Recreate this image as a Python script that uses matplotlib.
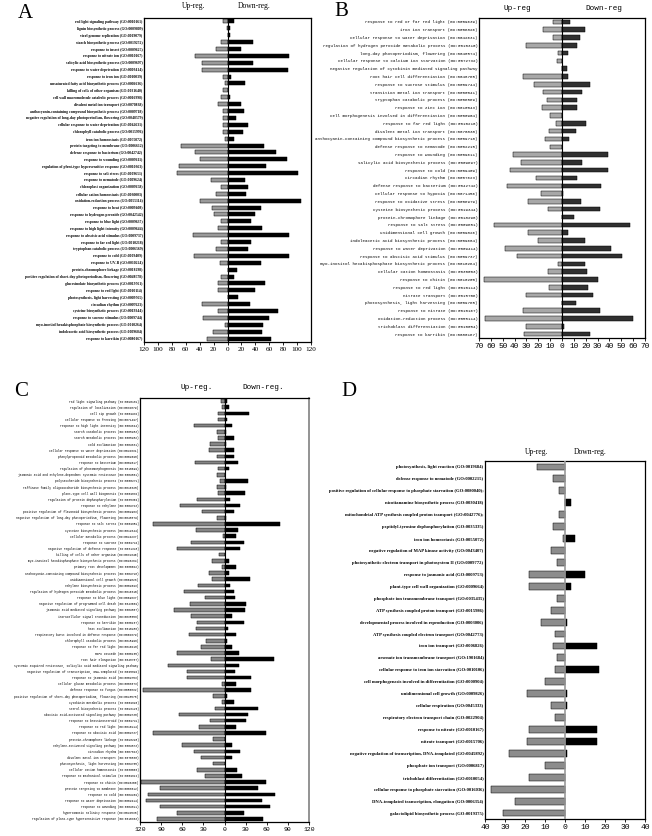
import numpy as np
import matplotlib
matplotlib.use("Agg")
import matplotlib.pyplot as plt

# ---------------- Panel A ----------------
a_labels = [
    "red light signaling pathway (GO:0010161)",
    "lignin biosynthetic process (GO:0009809)",
    "viral genome replication (GO:0019079)",
    "starch biosynthetic process (GO:0019252)",
    "response to insect (GO:0009625)",
    "response to nitrate ion (GO:0010167)",
    "salicylic acid biosynthetic process (GO:0009697)",
    "response to water deprivation (GO:0009414)",
    "response to iron ion (GO:0010039)",
    "unsaturated fatty acid biosynthetic process (GO:0006636)",
    "killing of cells of other organism (GO:0031640)",
    "cell wall macromolecule catabolic process (GO:0016998)",
    "divalent metal ion transport (GO:0070838)",
    "anthocyanin-containing compound biosynthetic process (GO:0009718)",
    "negative regulation of long-day photoperiodism, flowering (GO:0048579)",
    "cellular response to water deprivation (GO:0042631)",
    "chlorophyll catabolic process (GO:0015996)",
    "iron ion homeostasis (GO:0055072)",
    "protein targeting to membrane (GO:0006612)",
    "defense response to bacterium (GO:0042742)",
    "response to wounding (GO:0009611)",
    "regulation of plant-type hypersensitive response (GO:0010363)",
    "response to salt stress (GO:0009651)",
    "response to nematode (GO:0009624)",
    "chloroplast organization (GO:0009658)",
    "cellular cation homeostasis (GO:0030003)",
    "oxidation-reduction process (GO:0055114)",
    "response to heat (GO:0009408)",
    "response to hydrogen peroxide (GO:0042542)",
    "response to blue light (GO:0009637)",
    "response to high light intensity (GO:0009644)",
    "response to abscisic acid stimulus (GO:0009737)",
    "response to far red light (GO:0010218)",
    "tryptophan catabolic process (GO:0006569)",
    "response to cold (GO:0009409)",
    "response to UV-B (GO:0010224)",
    "protein-chromophore linkage (GO:0018298)",
    "positive regulation of short-day photoperiodism, flowering (GO:0048578)",
    "glucosinolate biosynthetic process (GO:0019761)",
    "response to red light (GO:0010114)",
    "photosynthesis, light harvesting (GO:0009765)",
    "circadian rhythm (GO:0007623)",
    "cysteine biosynthetic process (GO:0019344)",
    "response to sucrose stimulus (GO:0009744)",
    "myo-inositol hexakisphosphate biosynthetic process (GO:0010264)",
    "indoleacetic acid biosynthetic process (GO:0009684)",
    "response to karrikin (GO:0080167)",
]
a_up = [6, 1, 0, 9, 16, 47, 37, 37, 7, 4, 7, 10, 13, 6, 7, 7, 6, 4, 67, 47, 39, 70, 72, 24,
        10, 17, 40, 22, 19, 9, 13, 50, 10, 16, 48, 11, 0, 10, 14, 13, 0, 37, 14, 35, 4, 21, 29]
a_down = [10, 3, 3, 36, 19, 88, 36, 87, 5, 25, 0, 3, 20, 23, 12, 30, 22, 9, 52, 70, 86, 55, 101, 25,
          30, 26, 105, 48, 39, 34, 49, 88, 34, 30, 88, 48, 13, 9, 54, 39, 15, 33, 72, 60, 51, 49, 63]

# ---------------- Panel B ----------------
b_labels = [
    "response to red or far red light (GO:0009639)",
    "iron ion transport (GO:0006826)",
    "cellular response to water deprivation (GO:0042631)",
    "regulation of hydrogen peroxide metabolic process (GO:0010310)",
    "long-day photoperiodism, flowering (GO:0048574)",
    "cellular response to calcium ion starvation (GO:0072732)",
    "negative regulation of cytokinin mediated signaling pathway",
    "root hair cell differentiation (GO:0048765)",
    "response to sucrose stimulus (GO:0009744)",
    "transition metal ion transport (GO:0000041)",
    "tryptophan catabolic process (GO:0006569)",
    "response to zinc ion (GO:0010043)",
    "cell morphogenesis involved in differentiation (GO:0000904)",
    "response to far red light (GO:0010218)",
    "divalent metal ion transport (GO:0070838)",
    "anthocyanin-containing compound biosynthetic process (GO:0009718)",
    "defense response to nematode (GO:0002215)",
    "response to wounding (GO:0009611)",
    "salicylic acid biosynthetic process (GO:0009697)",
    "response to cold (GO:0009409)",
    "circadian rhythm (GO:0007623)",
    "defense response to bacterium (GO:0042742)",
    "cellular response to hypoxia (GO:0071456)",
    "response to oxidative stress (GO:0006979)",
    "cysteine biosynthetic process (GO:0019344)",
    "protein-chromophore linkage (GO:0018298)",
    "response to salt stress (GO:0009651)",
    "unidimensional cell growth (GO:0009826)",
    "indoleacetic acid biosynthetic process (GO:0009684)",
    "response to water deprivation (GO:0009414)",
    "response to abscisic acid stimulus (GO:0009737)",
    "myo-inositol hexakisphosphate biosynthetic process (GO:0010264)",
    "cellular cation homeostasis (GO:0030003)",
    "response to chitin (GO:0010200)",
    "response to red light (GO:0010114)",
    "nitrate transport (GO:0015706)",
    "photosynthesis, light harvesting (GO:0009765)",
    "response to nitrate (GO:0010167)",
    "oxidation-reduction process (GO:0055114)",
    "trichoblast differentiation (GO:0010054)",
    "response to karrikin (GO:0080167)",
]
b_up = [8, 16, 8, 30, 3, 4, 0, 33, 24, 16, 13, 17, 10, 5, 11, 14, 10, 41, 35, 44, 22, 46,
        18, 29, 12, 0, 57, 29, 20, 48, 38, 3, 12, 66, 11, 30, 0, 33, 65, 30, 32]
b_down = [7, 19, 15, 13, 5, 0, 4, 5, 24, 17, 13, 13, 0, 20, 12, 6, 0, 39, 17, 39, 13, 33,
          1, 16, 32, 10, 57, 5, 19, 41, 51, 19, 21, 30, 22, 26, 12, 32, 60, 2, 24]

# ---------------- Panel C ----------------
c_labels = [
    "red light signaling pathway (GO:0010161)",
    "regulation of localization (GO:0032879)",
    "cell tip growth (GO:0009932)",
    "cellular response to freezing (GO:0071497)",
    "response to high light intensity (GO:0009644)",
    "starch catabolic process (GO:0005983)",
    "starch metabolic process (GO:0005982)",
    "cold acclimation (GO:0009631)",
    "cellular response to water deprivation (GO:0042631)",
    "phenylpropanoid metabolic process (GO:0009698)",
    "response to bacterium (GO:0009617)",
    "regulation of photomorphogenesis (GO:0010099)",
    "jasmonic acid and ethylene-dependent systemic resistance (GO:0009861)",
    "polysaccharide biosynthetic process (GO:0000271)",
    "raffinose family oligosaccharide biosynthetic process (GO:0010325)",
    "plant-type cell wall biogenesis (GO:0009832)",
    "regulation of protein dephosphorylation (GO:0035304)",
    "response to ethylene (GO:0009723)",
    "positive regulation of flavonoid biosynthetic process (GO:0009963)",
    "negative regulation of long-day photoperiodism, flowering (GO:0048579)",
    "response to salt stress (GO:0009651)",
    "cysteine biosynthetic process (GO:0019344)",
    "cellular metabolic process (GO:0044237)",
    "response to sucrose (GO:0009744)",
    "negative regulation of defense response (GO:0031348)",
    "killing of cells of other organism (GO:0031640)",
    "myo-inositol hexakisphosphate biosynthetic process (GO:0010264)",
    "primary root development (GO:0080022)",
    "anthocyanin-containing compound biosynthetic process (GO:0009718)",
    "unidimensional cell growth (GO:0009826)",
    "ethylene biosynthetic process (GO:0009693)",
    "regulation of hydrogen peroxide metabolic process (GO:0010310)",
    "response to blue light (GO:0009637)",
    "negative regulation of programmed cell death (GO:0043069)",
    "jasmonic acid mediated signaling pathway (GO:0009867)",
    "intracellular signal transduction (GO:0035556)",
    "response to karrikin (GO:0080167)",
    "heat acclimation (GO:0010286)",
    "respiratory burst involved in defense response (GO:0002679)",
    "chlorophyll catabolic process (GO:0015996)",
    "response to far red light (GO:0010218)",
    "MAPK cascade (GO:0000165)",
    "root hair elongation (GO:0048767)",
    "systemic acquired resistance, salicylic acid mediated signaling pathway",
    "negative regulation of transcription, DNA-templated (GO:0045892)",
    "response to jasmonic acid (GO:0009753)",
    "cellular glucan metabolic process (GO:0006073)",
    "defense response to fungus (GO:0050832)",
    "positive regulation of short-day photoperiodism, flowering (GO:0048578)",
    "cytokinin metabolic process (GO:0009690)",
    "sterol biosynthetic process (GO:0016126)",
    "abscisic acid-activated signaling pathway (GO:0009738)",
    "response to brassinosteroid (GO:0009741)",
    "response to red light (GO:0010114)",
    "response to abscisic acid (GO:0009737)",
    "protein-chromophore linkage (GO:0018298)",
    "ethylene-activated signaling pathway (GO:0009873)",
    "circadian rhythm (GO:0007623)",
    "divalent metal ion transport (GO:0070838)",
    "photosynthesis, light harvesting (GO:0009765)",
    "cellular cation homeostasis (GO:0030003)",
    "response to mechanical stimulus (GO:0009612)",
    "response to chitin (GO:0010200)",
    "protein targeting to membrane (GO:0006612)",
    "response to cold (GO:0009409)",
    "response to water deprivation (GO:0009414)",
    "response to wounding (GO:0009611)",
    "hyperosmotic salinity response (GO:0042538)",
    "regulation of plant-type hypersensitive response (GO:0010363)",
]
c_up = [5, 4, 9, 9, 44, 11, 9, 21, 22, 11, 42, 9, 11, 7, 10, 9, 39, 63, 32, 11, 102, 41, 2, 48, 68,
        8, 18, 4, 22, 18, 37, 57, 27, 49, 72, 47, 39, 41, 51, 26, 33, 68, 19, 80, 53, 53,
        3, 116, 17, 3, 13, 64, 20, 36, 102, 16, 61, 43, 34, 17, 39, 28, 119, 92, 109, 112, 92, 68, 96]
c_down = [3, 6, 35, 4, 11, 2, 13, 2, 13, 13, 19, 6, 0, 34, 2, 29, 8, 22, 14, 2, 79, 19, 17, 27, 22,
          0, 6, 16, 7, 36, 8, 14, 15, 30, 29, 10, 27, 5, 17, 4, 11, 21, 70, 21, 15, 37,
          16, 38, 3, 14, 48, 33, 31, 17, 59, 0, 11, 22, 11, 0, 18, 25, 59, 48, 72, 53, 64, 28, 55]

# ---------------- Panel D ----------------
d_labels = [
    "photosynthesis, light reaction (GO:0019684)",
    "defense response to nematode (GO:0002215)",
    "positive regulation of cellular response to phosphate starvation (GO:0080040);",
    "nicotianamine biosynthetic process (GO:0030418)",
    "mitochondrial ATP synthesis coupled proton transport (GO:0042776);",
    "peptidyl-tyrosine dephosphorylation (GO:0035335)",
    "iron ion homeostasis (GO:0055072)",
    "negative regulation of MAP kinase activity (GO:0043407)",
    "photosynthetic electron transport in photosystem II (GO:0009772)",
    "response to jasmonic acid (GO:0009753)",
    "plant-type cell wall organization (GO:0009664)",
    "phosphate ion transmembrane transport (GO:0035435)",
    "ATP synthesis coupled proton transport (GO:0015986)",
    "developmental process involved in reproduction (GO:0003006)",
    "ATP synthesis coupled electron transport (GO:0042773)",
    "iron ion transport (GO:0006826)",
    "arsenate ion transmembrane transport (GO:1901684)",
    "cellular response to iron ion starvation (GO:0010106)",
    "cell morphogenesis involved in differentiation (GO:0000904)",
    "unidimensional cell growth (GO:0009826)",
    "cellular respiration (GO:0045333)",
    "respiratory electron transport chain (GO:0022904)",
    "response to nitrate (GO:0010167)",
    "nitrate transport (GO:0015706)",
    "negative regulation of transcription, DNA-templated (GO:0045892)",
    "phosphate ion transport (GO:0006817)",
    "trichoblast differentiation (GO:0010054)",
    "cellular response to phosphate starvation (GO:0016036)",
    "DNA-templated transcription, elongation (GO:0006354)",
    "galactolipid biosynthetic process (GO:0019375)",
]
d_up = [14, 6, 3, 0, 3, 6, 1, 7, 4, 18, 18, 4, 7, 12, 5, 6, 4, 5, 10, 19, 7, 5, 18, 19, 28, 10, 18, 37, 25, 31]
d_down = [0, 0, 0, 3, 0, 0, 5, 0, 0, 10, 3, 0, 0, 1, 0, 16, 0, 17, 0, 1, 1, 0, 16, 16, 1, 0, 0, 0, 0, 0]

W, H = 652, 836
fig = plt.figure(figsize=(W / 100, H / 100), dpi=100)


def px_axes(left, top, right, bottom):
    return fig.add_axes([left / W, 1 - bottom / H, (right - left) / W, (bottom - top) / H])


def panel(box, labels, up, down, lim, step, grey, dark, zero_col, lab_font, lab_size,
          tick_font, tick_size, bold=False, zero_lw=0.8):
    ax = px_axes(*box)
    y = np.arange(len(labels))
    ax.barh(y, -np.array(up), height=0.58, color=grey, edgecolor="black", linewidth=0.35)
    ax.barh(y, down, height=0.58, color=dark, edgecolor="black", linewidth=0.35)
    ax.axvline(0, color=zero_col, lw=zero_lw, zorder=3)
    ax.set_ylim(len(labels) - 0.5, -0.5)
    ax.set_xlim(-lim, lim)
    ax.set_yticks(y)
    ax.set_yticklabels(labels, fontsize=lab_size, family=lab_font,
                       fontweight="bold" if bold else "normal")
    ticks = np.arange(-lim, lim + 1, step)
    ax.set_xticks(ticks)
    ax.set_xticklabels([str(abs(t)) for t in ticks], fontsize=tick_size, family=tick_font)
    ax.tick_params(axis="y", length=0, pad=1)
    ax.tick_params(axis="x", length=2, width=0.6, pad=1.5)
    for s in ax.spines.values():
        s.set_linewidth(0.9)
    return ax


panel((144, 18, 311, 342), a_labels, a_up, a_down, 120, 20, "#9a9a9a", "black", "black",
      "Liberation Serif", 2.7, "Liberation Serif", 5.2, bold=True)
panel((479, 18, 645, 338), b_labels, b_up, b_down, 70, 10, "#a8a8a8", "#303030", "black",
      "Liberation Mono", 2.95, "Liberation Mono", 5.6)
axc = panel((140, 398, 309, 822), c_labels, c_up, c_down, 120, 30, "#858585", "black", "black",
            "Liberation Mono", 2.2, "Liberation Mono", 4.6)
axc.spines["right"].set_color("#8a8a8a")
axc.spines["right"].set_linewidth(1.3)
panel((485, 461, 645, 819), d_labels, d_up, d_down, 40, 10, "#8c8c8c", "black", "#9a9a9a",
      "Liberation Serif", 3.35, "Liberation Mono", 5.8, bold=True, zero_lw=1.2)

# panel letters and headers
for txt, x, y in [("A", 18, 14), ("B", 334, 12), ("C", 14, 392), ("D", 341, 392)]:
    fig.text(x / W, 1 - y / H, txt, fontsize=15, family="Liberation Serif", va="center", ha="left")

heads = [("Up-reg.", 194, 6, "Liberation Serif"), ("Down-reg.", 254, 6, "Liberation Serif"),
         ("Up-reg", 517, 8, "Liberation Mono"), ("Down-reg", 604, 8, "Liberation Mono"),
         ("Up-reg.", 197, 387, "Liberation Mono"), ("Down-reg.", 263, 387, "Liberation Mono"),
         ("Up-reg.", 537, 452, "Liberation Serif"), ("Down-reg.", 590, 452, "Liberation Serif")]
for txt, x, y, fam in heads:
    fig.text(x / W, 1 - y / H, txt, fontsize=5.5, family=fam, va="center", ha="center")

fig.savefig("out.png", dpi=100)
